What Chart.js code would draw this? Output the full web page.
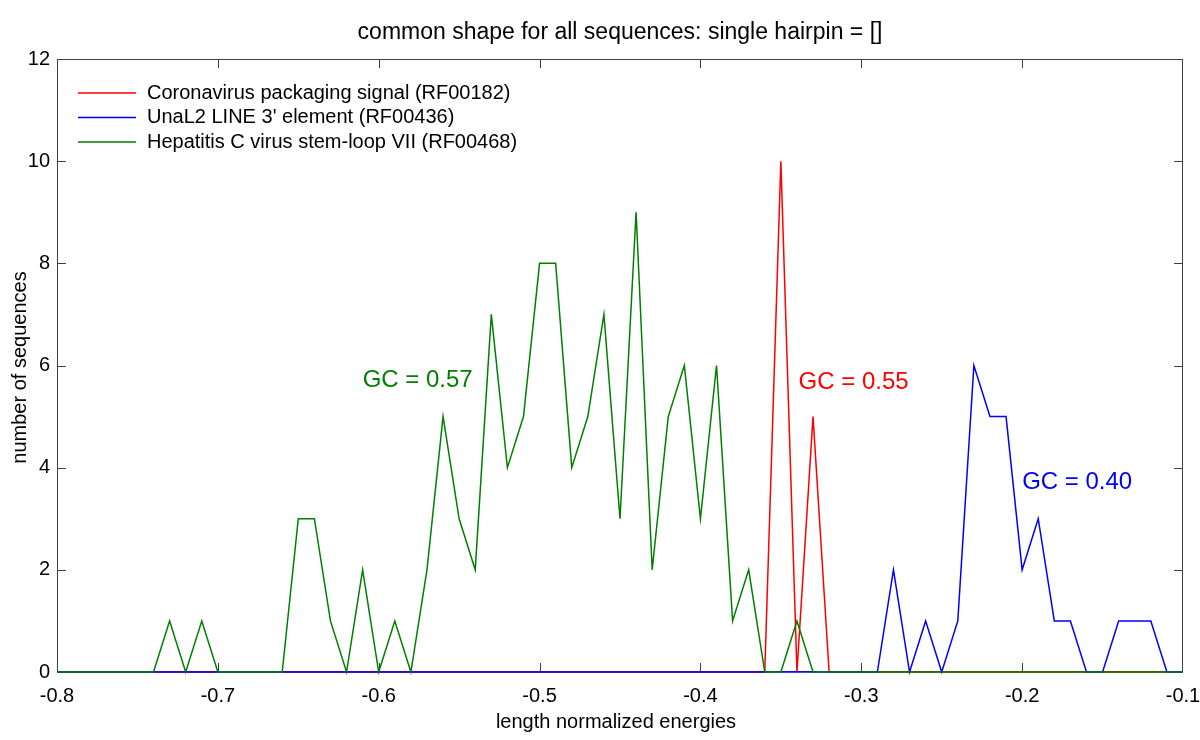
<!DOCTYPE html>
<html>
<head>
<meta charset="utf-8">
<script src="https://cdn.jsdelivr.net/npm/chart.js@4.4.1/dist/chart.umd.min.js"></script>
<style>
  html, body { margin: 0; padding: 0; background: #ffffff; }
  #wrap { width: 1200px; height: 740px; }
</style>
</head>
<body>
<div id="wrap"><canvas id="energyChart" width="1200" height="740"></canvas></div>
<script>
/* ========================================
   LENGTH NORMALIZED ENERGY HISTOGRAMS
   ======================================== */

// bin centres (length normalized energies)
const energies = [
    -0.80, -0.79, -0.78, -0.77, -0.76, -0.75, -0.74, -0.73, -0.72, -0.71,
    -0.70, -0.69, -0.68, -0.67, -0.66, -0.65, -0.64, -0.63, -0.62, -0.61,
    -0.60, -0.59, -0.58, -0.57, -0.56, -0.55, -0.54, -0.53, -0.52, -0.51,
    -0.50, -0.49, -0.48, -0.47, -0.46, -0.45, -0.44, -0.43, -0.42, -0.41,
    -0.40, -0.39, -0.38, -0.37, -0.36, -0.35, -0.34, -0.33, -0.32, -0.31,
    -0.30, -0.29, -0.28, -0.27, -0.26, -0.25, -0.24, -0.23, -0.22, -0.21,
    -0.20, -0.19, -0.18, -0.17, -0.16, -0.15, -0.14, -0.13, -0.12, -0.11,
    -0.10
];

// Coronavirus packaging signal (RF00182)
const coronavirusCounts = [
    0, 0, 0, 0, 0, 0, 0, 0, 0, 0,
    0, 0, 0, 0, 0, 0, 0, 0, 0, 0,
    0, 0, 0, 0, 0, 0, 0, 0, 0, 0,
    0, 0, 0, 0, 0, 0, 0, 0, 0, 0,
    0, 0, 0, 0, 0, 10, 0, 5, 0, 0,
    0, 0, 0, 0, 0, 0, 0, 0, 0, 0,
    0, 0, 0, 0, 0, 0, 0, 0, 0, 0,
    0
];

// UnaL2 LINE 3' element (RF00436)
const unal2Counts = [
    0, 0, 0, 0, 0, 0, 0, 0, 0, 0,
    0, 0, 0, 0, 0, 0, 0, 0, 0, 0,
    0, 0, 0, 0, 0, 0, 0, 0, 0, 0,
    0, 0, 0, 0, 0, 0, 0, 0, 0, 0,
    0, 0, 0, 0, 0, 0, 0, 0, 0, 0,
    0, 0, 2, 0, 1, 0, 1, 6, 5, 5,
    2, 3, 1, 1, 0, 0, 1, 1, 1, 0,
    0
];

// Hepatitis C virus stem-loop VII (RF00468)
const hepatitisCounts = [
    0, 0, 0, 0, 0, 0, 0, 1, 0, 1,
    0, 0, 0, 0, 0, 3, 3, 1, 0, 2,
    0, 1, 0, 2, 5, 3, 2, 7, 4, 5,
    8, 8, 4, 5, 7, 3, 9, 2, 5, 6,
    3, 6, 1, 2, 0, 0, 1, 0, 0, 0,
    0, 0, 0, 0, 0, 0, 0, 0, 0, 0,
    0, 0, 0, 0, 0, 0, 0, 0, 0, 0,
    0
];

const seriesLabels = [
    'Coronavirus packaging signal (RF00182)',
    "UnaL2 LINE 3' element (RF00436)",
    'Hepatitis C virus stem-loop VII (RF00468)'
];

// GC content notes, placed in data coordinates
const gcNotes = ['GC = 0.55', 'GC = 0.40', 'GC = 0.57'];
const gcNoteX = [-0.339, -0.200, -0.610];
const gcNoteY = [5.66, 3.71, 5.70];

const chartTitle = 'common shape for all sequences: single hairpin = []';
const xTitle = 'length normalized energies';
const yTitle = 'number of sequences';

const FONT = "'Liberation Sans', Arial, Helvetica, sans-serif";
const COLORS = ['#ff0000', '#0000ff', '#008000'];

function toPoints(counts) {
    return energies.map((e, i) => ({ x: e, y: counts[i] }));
}

/**
 * Axis box with inward ticks on all four sides (drawn under the lines)
 */
const framePlugin = {
    id: 'frame',
    beforeDatasetsDraw(chart) {
        const { ctx, chartArea: a, scales } = chart;
        ctx.save();
        ctx.strokeStyle = '#404040';
        ctx.lineWidth = 1;
        ctx.strokeRect(a.left + 0.5, a.top + 0.5, a.right - a.left - 1, a.bottom - a.top - 1);

        const tick = 9;
        ctx.beginPath();
        scales.x.ticks.forEach((t) => {
            const px = Math.round(scales.x.getPixelForValue(t.value)) + 0.5;
            if (px <= a.left + 1 || px >= a.right - 1) return;
            ctx.moveTo(px, a.bottom);
            ctx.lineTo(px, a.bottom - tick);
            ctx.moveTo(px, a.top);
            ctx.lineTo(px, a.top + tick);
        });
        scales.y.ticks.forEach((t) => {
            const py = Math.round(scales.y.getPixelForValue(t.value)) + 0.5;
            if (py <= a.top + 1 || py >= a.bottom - 1) return;
            ctx.moveTo(a.left, py);
            ctx.lineTo(a.left + tick, py);
            ctx.moveTo(a.right, py);
            ctx.lineTo(a.right - tick, py);
        });
        ctx.stroke();
        ctx.restore();
    },
    afterDraw(chart) {
        const { ctx, chartArea: a, scales } = chart;
        const midX = (a.left + a.right) / 2;
        const midY = (a.top + a.bottom) / 2;
        ctx.save();
        ctx.fillStyle = '#000000';
        ctx.textBaseline = 'middle';

        // title
        ctx.font = '23px ' + FONT;
        ctx.textAlign = 'center';
        ctx.fillText(chartTitle, midX, 33);

        // axis titles
        ctx.font = '20px ' + FONT;
        ctx.fillText(xTitle, midX - 4, 722);
        ctx.save();
        ctx.translate(20, midY + 2);
        ctx.rotate(-Math.PI / 2);
        ctx.fillText(yTitle, 0, 0);
        ctx.restore();

        // legend (top left, inside the box)
        ctx.font = '20px ' + FONT;
        ctx.textAlign = 'left';
        chart.data.datasets.forEach((ds, i) => {
            const y = a.top + 34 + i * 24.5;
            ctx.strokeStyle = ds.borderColor;
            ctx.lineWidth = 1.5;
            ctx.beginPath();
            ctx.moveTo(a.left + 21, y);
            ctx.lineTo(a.left + 79, y);
            ctx.stroke();
            ctx.fillStyle = '#000000';
            ctx.fillText(ds.label, a.left + 90, y);
        });

        // GC notes
        ctx.font = '24px ' + FONT;
        gcNotes.forEach((txt, i) => {
            ctx.fillStyle = COLORS[i];
            ctx.fillText(txt, scales.x.getPixelForValue(gcNoteX[i]), scales.y.getPixelForValue(gcNoteY[i]));
        });
        ctx.restore();
    }
};

function renderEnergyChart(canvasId) {
    const canvas = document.getElementById(canvasId);
    if (!canvas) return;

    const counts = [coronavirusCounts, unal2Counts, hepatitisCounts];

    return new Chart(canvas, {
        type: 'line',
        data: {
            datasets: counts.map((c, i) => ({
                label: seriesLabels[i],
                data: toPoints(c),
                borderColor: COLORS[i],
                backgroundColor: COLORS[i],
                borderWidth: 1.5,
                pointRadius: 0,
                tension: 0,
                fill: false,
                clip: 3,
                order: 2 - i   // green on top, red underneath
            }))
        },
        options: {
            responsive: false,
            animation: false,
            devicePixelRatio: 1,
            layout: { padding: { top: 59, right: 17, left: 0, bottom: 0 } },
            plugins: {
                legend: { display: false },
                title: { display: false },
                tooltip: { enabled: false }
            },
            scales: {
                x: {
                    type: 'linear',
                    min: -0.8,
                    max: -0.1,
                    grid: { display: false, drawTicks: false },
                    border: { display: false },
                    afterFit: (s) => {
                        s.height = 68;
                        s.paddingLeft = 0;
                        s.paddingRight = 0;
                    },
                    ticks: {
                        stepSize: 0.1,
                        padding: 12,
                        color: '#000000',
                        font: { family: FONT, size: 20 },
                        maxRotation: 0,
                        callback: (v) => v.toFixed(1)
                    }
                },
                y: {
                    min: 0,
                    max: 12,
                    grid: { display: false, drawTicks: false },
                    border: { display: false },
                    afterFit: (s) => {
                        s.width = 57;
                        s.paddingTop = 0;
                        s.paddingBottom = 0;
                    },
                    ticks: {
                        stepSize: 2,
                        padding: 7,
                        color: '#000000',
                        font: { family: FONT, size: 20 }
                    }
                }
            }
        },
        plugins: [framePlugin]
    });
}

renderEnergyChart('energyChart');
</script>
</body>
</html>
